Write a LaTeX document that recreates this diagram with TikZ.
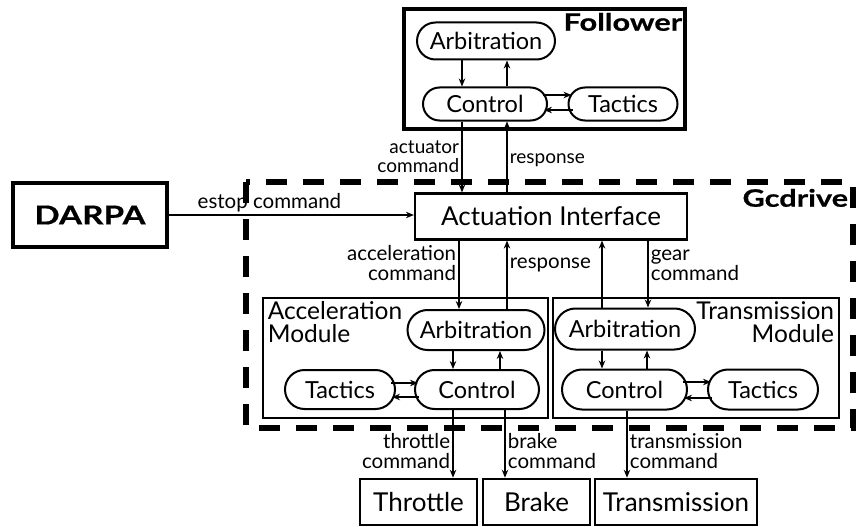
\documentclass[tikz,border=0pt]{standalone}
\usepackage{fontspec}
\setmainfont{Lato}
\newfontfamily\heavy[FakeStretch=1.28,FakeBold=0.6]{Lato}
\usetikzlibrary{arrows.meta,positioning,shapes.misc}
\begin{document}
\begin{tikzpicture}[x=1pt,y=-1pt,line width=1.8pt,>={Stealth[length=8pt,width=6.5pt]},
        pill/.style={draw,rounded rectangle,line width=2pt,inner sep=0pt,minimum height=37pt,font=\fontsize{23.5}{25}\selectfont},
        lbl/.style={inner sep=2pt,align=#1,font=\fontsize{20.5}{20}\selectfont},
        lbl/.default=left,
        box/.style={draw,line width=2.2pt,inner sep=0pt,font=\fontsize{26}{28}\selectfont},
        endbox/.style={draw,line width=2.6pt,inner sep=0pt,minimum height=46pt,font=\fontsize{26}{28}\selectfont},
        title/.style={inner sep=2pt,font=\fontsize{24}{26}\heavy\bfseries\selectfont},
        modlbl/.style={inner sep=2pt,align=#1,font=\fontsize{24.5}{23}\selectfont}]
                \useasboundingbox (0,0) rectangle (860,527);
                \draw[line width=4.5pt] (404,9) rectangle (685,129);
                \node[title,anchor=north east] at (685,10) {Follower};
                \draw[line width=6pt,dash pattern=on 21pt off 16pt] (246,182) rectangle (853,428);
                \node[title,anchor=north east] at (851,186) {Gcdrive};
                \draw[line width=2.4pt] (263,298) rectangle (548,418);
                \node[modlbl=left,anchor=north west] at (265,299) {Acceleration\\Module};
                \draw[line width=2.4pt] (553,298) rectangle (839,418);
                \node[modlbl=right,anchor=north east] at (837,299) {Transmission\\Module};
                \node[box,line width=4pt,minimum width=154pt,minimum height=64pt,font=\fontsize{26}{28}\heavy\bfseries\selectfont] (darpa) at (90,215) {DARPA};
                \node[box,minimum width=272pt,minimum height=46pt] (ai) at (551,216.5) {Actuation Interface};
                \node[pill,minimum width=138pt] (farb) at (486,41) {Arbitration};
                \node[pill,minimum width=124pt,minimum height=33pt] (fctl) at (485,104) {Control};
                \node[pill,minimum width=109pt,minimum height=33pt] (ftac) at (623,104) {Tactics};
                \node[pill,minimum width=137pt,minimum height=40pt] (aarb) at (476,330) {Arbitration};
                \node[pill,minimum width=124pt,minimum height=39pt] (actl) at (477,389.5) {Control};
                \node[pill,minimum width=110pt,minimum height=39pt] (atac) at (340,389.5) {Tactics};
                \node[pill,minimum width=140pt,minimum height=41pt] (tarb) at (625,329) {Arbitration};
                \node[pill,minimum width=125pt,minimum height=40pt] (tctl) at (624.5,389.5) {Control};
                \node[pill,minimum width=110pt,minimum height=40pt] (ttac) at (763,389.5) {Tactics};
                \node[endbox,minimum width=117pt] (thr) at (418.5,502) {Throttle};
                \node[endbox,minimum width=107pt] (brk) at (536.5,502) {Brake};
                \node[endbox,minimum width=162pt] (trn) at (676,502) {Transmission};
                \draw[->] (farb.south -| 462,0) -- (fctl.north -| 462,0);
                \draw[->] (fctl.north -| 507,0) -- (farb.south -| 507,0);
                \draw[->] ([xshift=-5pt]fctl.east |- 0,95) -- ([xshift=4pt]ftac.west |- 0,95);
                \draw[->] ([xshift=5pt]ftac.west |- 0,110) -- ([xshift=-4pt]fctl.east |- 0,110);
                \draw[->] (fctl.south -| 462,0) -- (ai.north -| 462,0) node[midway,left,lbl=right,font=\fontsize{19}{19}\selectfont] {actuator\\command};
                \draw[->] (ai.north -| 507,0) -- (fctl.south -| 507,0) node[pos=.45,right,lbl,font=\fontsize{19}{19}\selectfont] {response};
                \draw[->] (darpa.east) -- (darpa.east -| ai.west) node[pos=.41,above,lbl] {estop command};
                \draw[->] (ai.south -| 459,0) -- (aarb.north -| 459,0) node[pos=.33,left,lbl=right] {acceleration\\command};
                \draw[->] (aarb.north -| 507,0) -- (ai.south -| 507,0) node[pos=.64,right,lbl] {response};
                \draw[->] (tarb.north -| 602,0) -- (ai.south -| 602,0);
                \draw[->] (ai.south -| 648,0) -- (tarb.north -| 648,0) node[pos=.37,right,lbl] {gear\\command};
                \draw[->] (aarb.south -| 453,0) -- (actl.north -| 453,0);
                \draw[->] (actl.north -| 500,0) -- (aarb.south -| 500,0);
                \draw[->] ([xshift=-5pt]atac.east |- 0,383) -- ([xshift=4pt]actl.west |- 0,383);
                \draw[->] ([xshift=5pt]actl.west |- 0,397) -- ([xshift=-4pt]atac.east |- 0,397);
                \draw[->] (tarb.south -| 602,0) -- (tctl.north -| 602,0);
                \draw[->] (tctl.north -| 647,0) -- (tarb.south -| 647,0);
                \draw[->] ([xshift=-5pt]tctl.east |- 0,382) -- ([xshift=4pt]ttac.west |- 0,382);
                \draw[->] ([xshift=5pt]ttac.west |- 0,398) -- ([xshift=-4pt]tctl.east |- 0,398);
                \draw[->] (actl.south -| 453,0) -- (thr.north -| 453,0) node[pos=.6,left,lbl=right] {throttle\\command};
                \draw[->] (actl.south -| 505,0) -- (brk.north -| 505,0) node[pos=.6,right,lbl] {brake\\command};
                \draw[->] (tctl.south -| 627,0) -- (trn.north -| 627,0) node[pos=.6,right,lbl] {transmission\\command};
\end{tikzpicture}
\end{document}
